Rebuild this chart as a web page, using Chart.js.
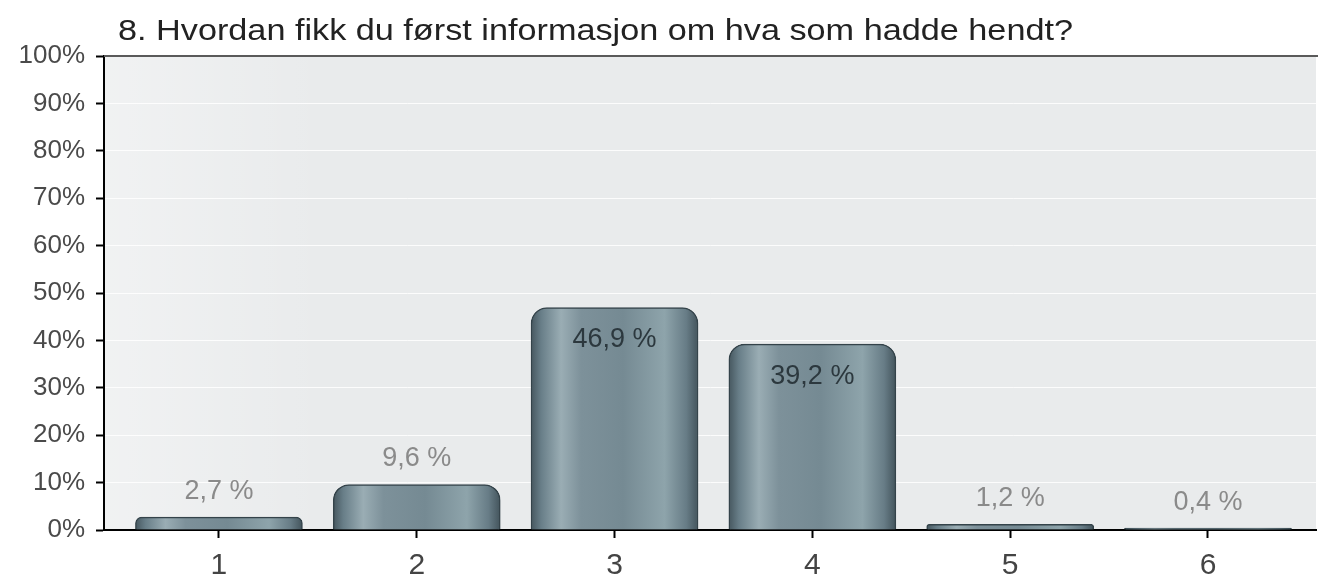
<!DOCTYPE html>
<html>
<head>
<meta charset="utf-8">
<script src="https://cdn.jsdelivr.net/npm/chart.js@4.4.0/dist/chart.umd.min.js"></script>
<style>
  html, body { margin: 0; padding: 0; background: #fff; }
  #wrap { width: 1318px; height: 578px; position: relative; }
</style>
</head>
<body>
<div id="wrap"><canvas id="c" width="1318" height="578"></canvas></div>
<script>
const titleText = '8. Hvordan fikk du først informasjon om hva som hadde hendt?';
const categories = ['1', '2', '3', '4', '5', '6'];
const values = [2.7, 9.6, 46.9, 39.2, 1.2, 0.4];
const yTickStep = 10;

const FONT = "'Liberation Sans', Arial, sans-serif";

function barGradient(ctx) {
  const chart = ctx.chart;
  if (!chart.chartArea || !ctx.raw) return '#6f8590';
  const cx = chart.scales.x.getPixelForValue(ctx.raw.x);
  const half = 83.5;
  const g = chart.ctx.createLinearGradient(cx - half, 0, cx + half, 0);
  g.addColorStop(0.00, '#46575f');
  g.addColorStop(0.06, '#687e88');
  g.addColorStop(0.18, '#9aadb4');
  g.addColorStop(0.30, '#7d919a');
  g.addColorStop(0.55, '#758a93');
  g.addColorStop(0.80, '#8ea4ab');
  g.addColorStop(0.93, '#677c86');
  g.addColorStop(1.00, '#43545c');
  return g;
}

const plotBg = {
  id: 'plotBg',
  beforeDraw(chart) {
    const { ctx, chartArea: a } = chart;
    ctx.save();
    ctx.fillStyle = '#e9ebec';
    ctx.fillRect(a.left, a.top, a.right - a.left, a.bottom - a.top);
    const g = ctx.createLinearGradient(a.left, 0, a.left + 220, 0);
    g.addColorStop(0, 'rgba(255,255,255,0.35)');
    g.addColorStop(1, 'rgba(255,255,255,0)');
    ctx.fillStyle = g;
    ctx.fillRect(a.left, a.top, 220, a.bottom - a.top);
    ctx.restore();
  },
  afterDraw(chart) {
    const { ctx, chartArea: a } = chart;
    ctx.save();
    ctx.strokeStyle = '#5a5a5a';
    ctx.lineWidth = 2;
    ctx.beginPath();
    ctx.moveTo(a.left, a.top);
    ctx.lineTo(1318, a.top);
    ctx.stroke();
    ctx.fillStyle = '#222';
    ctx.font = '29px ' + FONT;
    ctx.textBaseline = 'middle';
    ctx.textAlign = 'left';
    const w = ctx.measureText(titleText).width;
    const sx = 955 / w;
    ctx.translate(118, 32);
    ctx.scale(sx, 1);
    ctx.fillText(titleText, 0, 0);
    ctx.restore();
  }
};

const valueLabels = {
  id: 'valueLabels',
  afterDatasetsDraw(chart) {
    const { ctx } = chart;
    const meta = chart.getDatasetMeta(0);
    ctx.save();
    ctx.font = '27px ' + FONT;
    ctx.textAlign = 'center';
    ctx.textBaseline = 'middle';
    meta.data.forEach((el, i) => {
      const v = values[i];
      const txt = v.toFixed(1).replace('.', ',') + ' %';
      if (v > 20) {
        ctx.fillStyle = '#2c383e';
        ctx.fillText(txt, el.x, el.y + 32);
      } else {
        ctx.fillStyle = '#8a8a8a';
        ctx.fillText(txt, el.x, el.y - 26);
      }
    });
    ctx.restore();
  }
};

new Chart(document.getElementById('c'), {
  type: 'bar',
  data: {
    datasets: [{
      data: values.map((v, i) => ({ x: i + 1, y: v })),
      backgroundColor: barGradient,
      borderColor: '#34434a',
      borderWidth: 1.5,
      borderSkipped: 'bottom',
      borderRadius: { topLeft: 16, topRight: 16, bottomLeft: 0, bottomRight: 0 },
      barThickness: 167
    }]
  },
  options: {
    responsive: false,
    animation: false,
    devicePixelRatio: 1,
    layout: { padding: { top: 56, right: 2, left: 0, bottom: 0 } },
    plugins: { legend: { display: false }, tooltip: { enabled: false }, title: { display: false } },
    scales: {
      x: {
        type: 'linear',
        offset: false,
        min: 0.419,
        max: 6.546,
        afterFit(s) { s.height = 48; },
        afterBuildTicks(s) { s.ticks = s.ticks.filter(t => Number.isInteger(t.value) && t.value >= 1 && t.value <= categories.length); },
        ticks: {
          stepSize: 1,
          includeBounds: false,
          autoSkip: false,
          maxRotation: 0,
          padding: 10,
          color: '#444',
          font: { family: FONT, size: 30 },
          callback: v => categories[v - 1]
        },
        grid: { offset: false, drawOnChartArea: false, drawTicks: true, tickLength: 8, tickColor: '#000', tickWidth: 2 },
        border: { color: '#000', width: 2 }
      },
      y: {
        min: 0,
        max: 100,
        afterFit(s) { s.width = 104; },
        ticks: {
          stepSize: yTickStep,
          padding: 11,
          color: '#4a4a4a',
          font: { family: FONT, size: 26 },
          callback: v => v + '%'
        },
        grid: { color: 'rgba(255,255,255,0.85)', lineWidth: 1, tickLength: 8, tickColor: '#000', tickWidth: 2 },
        border: { color: '#000', width: 2 }
      }
    }
  },
  plugins: [plotBg, valueLabels]
});
</script>
</body>
</html>
